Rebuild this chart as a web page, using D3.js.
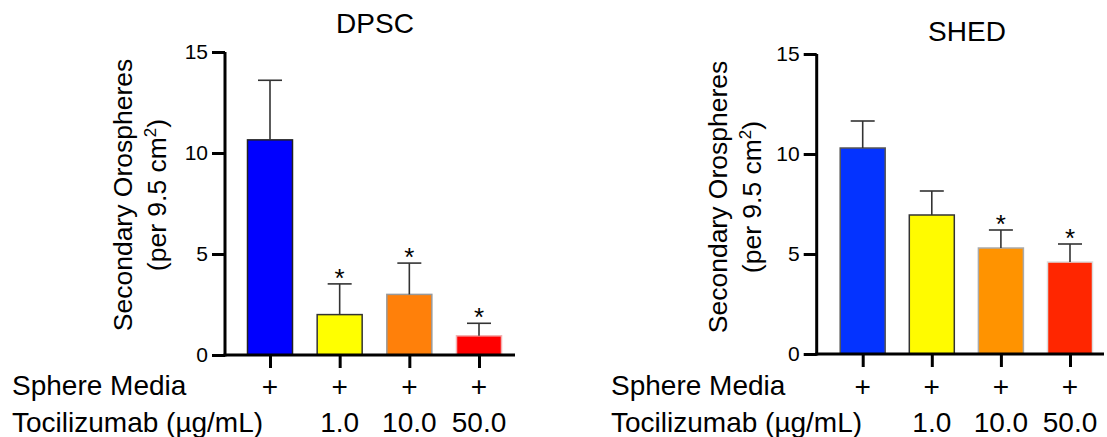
<!DOCTYPE html>
<html>
<head>
<meta charset="utf-8">
<script src="https://cdn.jsdelivr.net/npm/d3@7"></script>
<style>
  html, body { margin: 0; padding: 0; background: #fff; }
  svg { display: block; font-family: "Liberation Sans", Arial, Helvetica, sans-serif; }
</style>
</head>
<body>
<svg id="chart" width="1107" height="437"></svg>
<script>
// Groups (same for both panels)
const groups = ["ctrl", "t1", "t10", "t50"];
const sphereMedia = ["+", "+", "+", "+"];
const doseLabels = ["", "1.0", "10.0", "50.0"];
const yTicks = [0, 5, 10, 15];

// DPSC: mean and SD of secondary orospheres
const dpscMean = [10.65, 2.0, 3.0, 0.95];
const dpscSD = [2.95, 1.52, 1.55, 0.62];
const dpscSig = [false, true, true, true];

// SHED: mean and SD
const shedMean = [10.3, 6.95, 5.3, 4.6];
const shedSD = [1.35, 1.2, 0.9, 0.9];
const shedSig = [false, false, true, true];

// Bar colours
const dpscFill = ["#0000ff", "#ffff00", "#ff800a", "#ff0000"];
const dpscStroke = ["#222", "#333", "#999", "#f3b0b0"];
const shedFill = ["#0433ff", "#fffb00", "#ff9300", "#ff2600"];
const shedStroke = ["#555", "#333", "#aaa", "#ddd"];

const svg = d3.select("#chart");

function panel(opt) {
  const g = svg.append("g");
  const y = d3.scaleLinear().domain([0, 15]).range([opt.y0, opt.y15]);
  const x = d3.scalePoint().domain(groups).range([opt.c0, opt.c3]);
  const bw = 45;

  // title
  g.append("text")
    .attr("x", opt.titleX).attr("y", opt.titleY)
    .attr("text-anchor", "middle")
    .attr("font-size", 28)
    .text(opt.title);

  // y axis label (two lines, rotated)
  const lab = g.append("text")
    .attr("transform", `translate(${opt.labX},${opt.labY}) rotate(-90)`)
    .attr("text-anchor", "middle")
    .attr("font-size", 26.5);
  lab.append("tspan").attr("x", 0).attr("y", 0).text("Secondary Orospheres");
  const l2 = lab.append("tspan").attr("x", 0).attr("y", 34);
  l2.append("tspan").text("(per 9.5 cm");
  l2.append("tspan").attr("font-size", 17).attr("dy", -10).text("2");
  l2.append("tspan").attr("dy", 10).text(")");

  // bars
  g.selectAll("rect.bar").data(groups).join("rect")
    .attr("class", "bar")
    .attr("x", d => x(d) - bw / 2)
    .attr("width", bw)
    .attr("y", (d, i) => y(opt.mean[i]))
    .attr("height", (d, i) => y(0) - y(opt.mean[i]))
    .attr("fill", (d, i) => opt.fill[i])
    .attr("stroke", (d, i) => opt.stroke[i])
    .attr("stroke-width", 1.5);

  // error bars (upper)
  const eb = g.selectAll("g.err").data(groups).join("g").attr("class", "err")
    .attr("stroke", "#333").attr("stroke-width", 1.6);
  eb.append("line")
    .attr("x1", d => x(d)).attr("x2", d => x(d))
    .attr("y1", (d, i) => y(opt.mean[i]))
    .attr("y2", (d, i) => y(opt.mean[i] + opt.sd[i]));
  eb.append("line")
    .attr("x1", d => x(d) - 12).attr("x2", d => x(d) + 12)
    .attr("y1", (d, i) => y(opt.mean[i] + opt.sd[i]))
    .attr("y2", (d, i) => y(opt.mean[i] + opt.sd[i]));

  // significance asterisks
  g.selectAll("text.sig").data(groups).join("text")
    .attr("class", "sig")
    .attr("x", d => x(d))
    .attr("y", (d, i) => y(opt.mean[i] + opt.sd[i]) + 3)
    .attr("text-anchor", "middle")
    .attr("font-size", 26)
    .text((d, i) => opt.sig[i] ? "*" : "");

  // y axis
  const ya = g.append("g")
    .attr("transform", `translate(${opt.axX},0)`)
    .call(d3.axisLeft(y).tickValues(yTicks).tickSize(13).tickPadding(4).tickFormat(d3.format("d")));
  ya.select(".domain").attr("stroke", "#000").attr("stroke-width", 3)
    .attr("d", `M0,${opt.y15}V${opt.y0 + 1.5}`);
  ya.selectAll(".tick line").attr("stroke", "#000").attr("stroke-width", 3);
  ya.selectAll(".tick text").attr("font-size", 21).attr("fill", "#000")
    .attr("font-family", "Liberation Sans, Arial, sans-serif");

  // x axis
  const xa = g.append("g")
    .attr("transform", `translate(0,${opt.y0})`)
    .call(d3.axisBottom(x).tickSize(13).tickFormat(""));
  xa.select(".domain").attr("stroke", "#000").attr("stroke-width", 3)
    .attr("d", `M${opt.axX - 1.5},0H${opt.axEnd}`);
  xa.selectAll(".tick line").attr("stroke", "#000").attr("stroke-width", 3);

  // row labels under the axis
  g.append("text").attr("x", opt.rowX).attr("y", 395).attr("font-size", 28).text("Sphere Media");
  g.append("text").attr("x", opt.rowX).attr("y", 432).attr("font-size", 28).text("Tocilizumab (µg/mL)");
  g.selectAll("text.plus").data(groups).join("text")
    .attr("class", "plus")
    .attr("x", d => x(d)).attr("y", 396)
    .attr("text-anchor", "middle").attr("font-size", 28)
    .text((d, i) => sphereMedia[i]);
  g.selectAll("text.dose").data(groups).join("text")
    .attr("class", "dose")
    .attr("x", d => x(d)).attr("y", 432)
    .attr("text-anchor", "middle").attr("font-size", 28)
    .text((d, i) => doseLabels[i]);
}

panel({
  title: "DPSC", titleX: 375, titleY: 33,
  mean: dpscMean, sd: dpscSD, sig: dpscSig, fill: dpscFill, stroke: dpscStroke,
  y0: 355, y15: 52, c0: 270, c3: 479, axX: 225, axEnd: 515,
  labX: 132, labY: 195, rowX: 12
});

panel({
  title: "SHED", titleX: 967, titleY: 41,
  mean: shedMean, sd: shedSD, sig: shedSig, fill: shedFill, stroke: shedStroke,
  y0: 354, y15: 54, c0: 862.7, c3: 1070, axX: 816.7, axEnd: 1104,
  labX: 727, labY: 197, rowX: 611
});
</script>
</body>
</html>
